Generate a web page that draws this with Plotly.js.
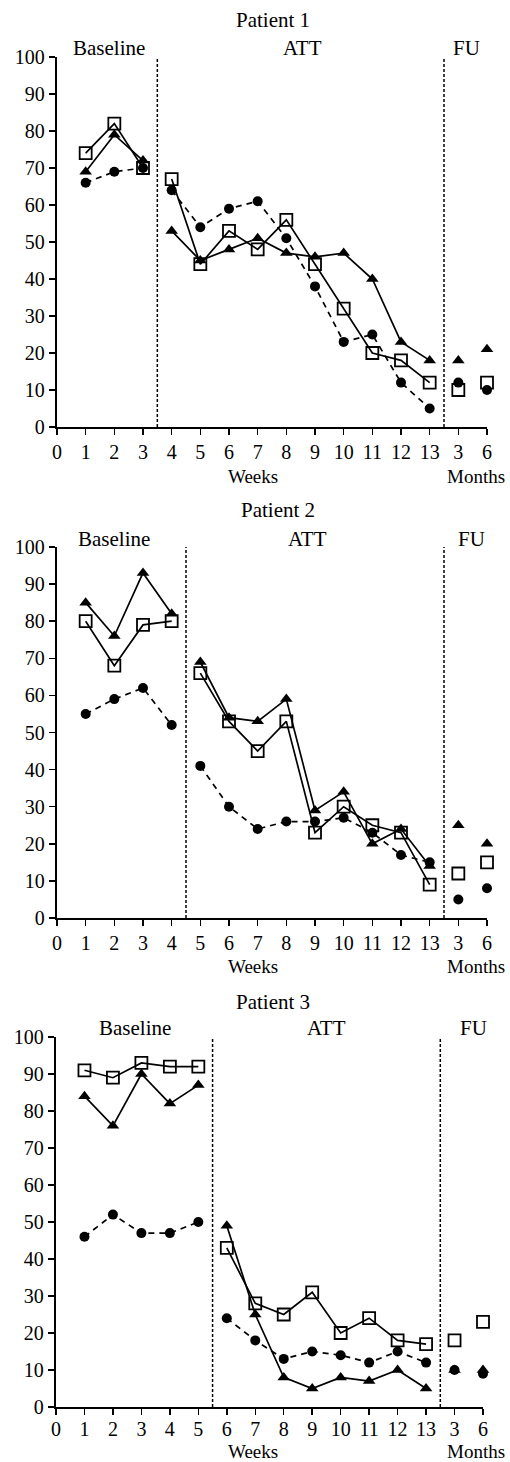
<!DOCTYPE html>
<html>
<head>
<meta charset="utf-8">
<script src="https://cdn.plot.ly/plotly-3.0.1.min.js"></script>
<style>html,body{margin:0;padding:0;background:#fff;}#chart{width:510px;height:1462px;}</style>
</head>
<body>
<div id="chart"></div>
<script>
// ---- tick labels (positions 0..13 are weeks, 14 and 15 are follow-up months 3 and 6)
const tickLabels = ['0','1','2','3','4','5','6','7','8','9','10','11','12','13','3','6'];
const fuPos = [14, 15];

// ---- Patient 1
const p1BaseWeeks = [1, 2, 3];
const p1AttWeeks = [4, 5, 6, 7, 8, 9, 10, 11, 12, 13];
const p1SqBase = [74, 82, 70];
const p1SqAtt = [67, 44, 53, 48, 56, 44, 32, 20, 18, 12];
const p1SqFu = [10, 12];
const p1TriBase = [69, 79, 72];
const p1TriAtt = [53, 45, 48, 51, 47, 46, 47, 40, 23, 18];
const p1TriFu = [18, 21];
const p1CirBase = [66, 69, 70];
const p1CirAtt = [64, 54, 59, 61, 51, 38, 23, 25, 12, 5];
const p1CirFu = [12, 10];

// ---- Patient 2
const p2BaseWeeks = [1, 2, 3, 4];
const p2AttWeeks = [5, 6, 7, 8, 9, 10, 11, 12, 13];
const p2SqBase = [80, 68, 79, 80];
const p2SqAtt = [66, 53, 45, 53, 23, 30, 25, 23, 9];
const p2SqFu = [12, 15];
const p2TriBase = [85, 76, 93, 82];
const p2TriAtt = [69, 54, 53, 59, 29, 34, 20, 24, 14];
const p2TriFu = [25, 20];
const p2CirBase = [55, 59, 62, 52];
const p2CirAtt = [41, 30, 24, 26, 26, 27, 23, 17, 15];
const p2CirFu = [5, 8];

// ---- Patient 3
const p3BaseWeeks = [1, 2, 3, 4, 5];
const p3AttWeeks = [6, 7, 8, 9, 10, 11, 12, 13];
const p3SqBase = [91, 89, 93, 92, 92];
const p3SqAtt = [43, 28, 25, 31, 20, 24, 18, 17];
const p3SqFu = [18, 23];
const p3TriBase = [84, 76, 90, 82, 87];
const p3TriAtt = [49, 25, 8, 5, 8, 7, 10, 5];
const p3TriFu = [10, 10];
const p3CirBase = [46, 52, 47, 47, 50];
const p3CirAtt = [24, 18, 13, 15, 14, 12, 15, 12];
const p3CirFu = [10, 9];

// ---- divider positions (between phases)
const dividers = [[3.5, 13.5], [4.5, 13.5], [5.5, 13.5]];
const patientNames = ['Patient 1', 'Patient 2', 'Patient 3'];
const phaseNames = ['Baseline', 'ATT', 'FU'];

const W = 510, H = 1462;
const SERIF = 'Liberation Serif, Times New Roman, serif';

const styles = {
  sq:  {symbol: 'square-open', size: 12, color: '#000', line: {width: 1.8, color: '#000'}, dash: 'solid'},
  tri: {symbol: 'triangle-up', size: 11, color: '#000', line: {width: 0, color: '#000'}, dash: 'solid'},
  cir: {symbol: 'circle', size: 10, color: '#000', line: {width: 0, color: '#000'}, dash: '6px,5px'}
};

const patients = [
  {base: p1BaseWeeks, att: p1AttWeeks, sq: [p1SqBase, p1SqAtt, p1SqFu], tri: [p1TriBase, p1TriAtt, p1TriFu], cir: [p1CirBase, p1CirAtt, p1CirFu]},
  {base: p2BaseWeeks, att: p2AttWeeks, sq: [p2SqBase, p2SqAtt, p2SqFu], tri: [p2TriBase, p2TriAtt, p2TriFu], cir: [p2CirBase, p2CirAtt, p2CirFu]},
  {base: p3BaseWeeks, att: p3AttWeeks, sq: [p3SqBase, p3SqAtt, p3SqFu], tri: [p3TriBase, p3TriAtt, p3TriFu], cir: [p3CirBase, p3CirAtt, p3CirFu]}
];

// pixel geometry of each panel: [x of 0, x of 15, y of 100, y of 0]
const geom = [
  [57, 487, 57, 427],
  [57, 487, 547, 918],
  [56, 483, 1037, 1407]
];
const labelStandoff = [0, 0, -3];

const traces = [];
const shapes = [];
const annotations = [];
const layout = {
  width: W, height: H,
  margin: {l: 0, r: 0, t: 0, b: 0},
  paper_bgcolor: '#fff', plot_bgcolor: '#fff',
  showlegend: false,
  font: {family: SERIF, color: '#000', size: 20}
};

patients.forEach((p, i) => {
  const n = i + 1;
  const xa = n === 1 ? 'x' : 'x' + n;
  const ya = n === 1 ? 'y' : 'y' + n;
  const g = geom[i];
  ['sq', 'tri', 'cir'].forEach(k => {
    const s = styles[k];
    const segs = [[p.base, p[k][0], 'lines+markers'], [p.att, p[k][1], 'lines+markers'], [fuPos, p[k][2], 'markers']];
    segs.forEach(seg => {
      traces.push({
        x: seg[0], y: seg[1], xaxis: xa, yaxis: ya, mode: seg[2], type: 'scatter',
        cliponaxis: false, hoverinfo: 'skip',
        line: {color: '#000', width: 1.7, dash: s.dash},
        marker: {symbol: s.symbol, size: s.size, color: s.color, line: s.line}
      });
    });
  });
  const xKey = n === 1 ? 'xaxis' : 'xaxis' + n;
  const yKey = n === 1 ? 'yaxis' : 'yaxis' + n;
  layout[xKey] = {
    domain: [g[0] / W, g[1] / W], anchor: ya, range: [0, 15],
    tickvals: tickLabels.map((t, j) => j), ticktext: tickLabels,
    showline: true, linewidth: 2.2, linecolor: '#000', ticks: 'outside', ticklen: 6, tickwidth: 1.5, tickcolor: '#000',
    ticklabelstandoff: labelStandoff[i],
    showgrid: false, zeroline: false, fixedrange: true, tickfont: {family: SERIF, size: 20, color: '#000'}
  };
  layout[yKey] = {
    domain: [1 - g[3] / H, 1 - g[2] / H], anchor: xa, range: [0, 100], dtick: 10, tick0: 0,
    showline: true, linewidth: 2.2, linecolor: '#000', ticks: 'outside', ticklen: 6, tickwidth: 1.5, tickcolor: '#000',
    showgrid: false, zeroline: false, fixedrange: true, tickfont: {family: SERIF, size: 20, color: '#000'}
  };
  dividers[i].forEach(d => {
    shapes.push({type: 'line', xref: xa, yref: ya, x0: d, x1: d, y0: 0, y1: 101,
      line: {color: '#000', width: 1.5, dash: '3px,2px'}});
  });
});

// text labels (pixel positions converted to paper)
function ann(text, px, py, size) {
  annotations.push({text: text, xref: 'paper', yref: 'paper', x: px / W, y: 1 - py / H,
    xanchor: 'center', yanchor: 'middle', showarrow: false, font: {family: SERIF, size: size, color: '#000'}});
}
const titlePos = [[273, 20], [278, 510], [273, 1002]];
const phasePos = [
  [[109, 48], [302, 48], [466, 48]],
  [[114, 539], [307, 539], [471, 539]],
  [[135, 1028], [326, 1028], [473, 1028]]
];
const unitY = [476, 966, 1451];
patientNames.forEach((nm, i) => {
  ann(nm, titlePos[i][0], titlePos[i][1], 21);
  phaseNames.forEach((ph, j) => ann(ph, phasePos[i][j][0], phasePos[i][j][1], 21));
  ann('Weeks', 253, unitY[i], 19);
  ann('Months', 476, unitY[i], 19);
});
layout.shapes = shapes;
layout.annotations = annotations;

Plotly.newPlot('chart', traces, layout, {staticPlot: true, displayModeBar: false});
</script>
</body>
</html>
